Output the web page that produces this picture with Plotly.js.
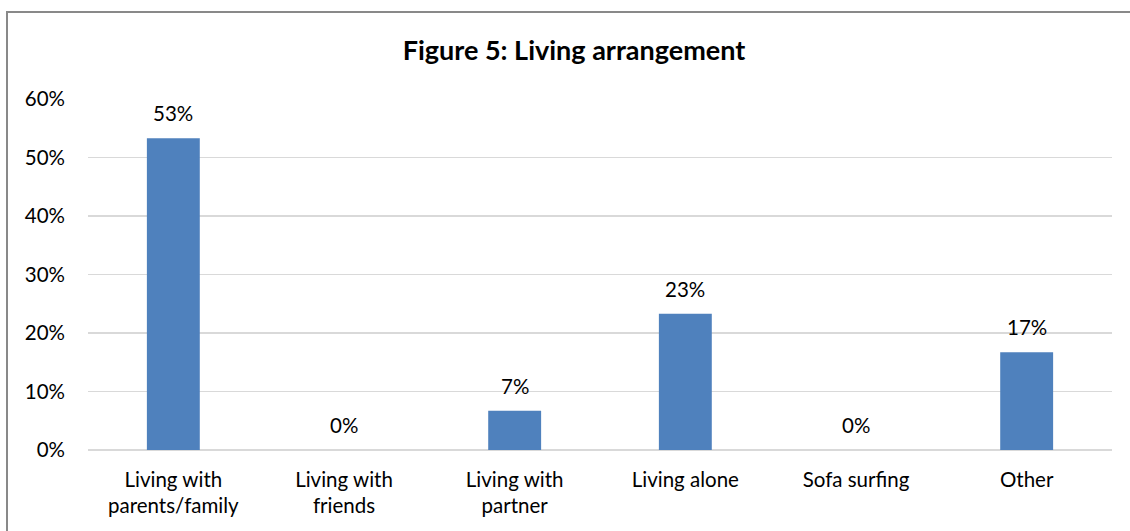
<!DOCTYPE html>
<html>
<head>
<meta charset="utf-8">
<script src="https://cdn.plot.ly/plotly-3.0.1.min.js"></script>
<style>
  html, body { margin: 0; padding: 0; overflow: hidden; background: #fff; width: 1130px; height: 531px; }
  #frame { position: absolute; left: 6px; top: 11px; border: 2px solid #898989; width: 1140px; height: 540px; background: #fff; }
  #chart { width: 1140px; height: 540px; }
</style>
</head>
<body>
<div id="frame"><div id="chart"></div></div>
<script>
const categories = ["Living with<br>parents/family", "Living with<br>friends", "Living with<br>partner", "Living alone", "Sofa surfing", "Other"];
const shares = [0.533, 0, 0.067, 0.233, 0, 0.167];
const tickValues = [0, 0.1, 0.2, 0.3, 0.4, 0.5, 0.6];
const tickLabels = ["0%", "10%", "20%", "30%", "40%", "50%", "60%"];
const chartTitle = "Figure 5: Living arrangement";

const FONT = "Lato, 'Open Sans', sans-serif";
const FS = 20.5;

const trace = {
  type: "bar",
  x: categories,
  y: shares,
  marker: { color: "#4F81BD" },
  hoverinfo: "skip"
};

const annotations = categories.map((c, i) => ({
  x: c, y: shares[i], xref: "x", yref: "y",
  text: Math.round(shares[i] * 100) + "%",
  showarrow: false, yanchor: "bottom", yshift: 11,
  font: { family: FONT, size: FS, color: "#000" }
}));

const layout = {
  width: 1140, height: 540,
  margin: { l: 80, r: 36, t: 86, b: 103 },
  paper_bgcolor: "#fff", plot_bgcolor: "#fff",
  bargap: 0.69,
  showlegend: false,
  font: { family: FONT, size: FS, color: "#000" },
  title: {
    text: "<b>" + chartTitle + "</b>",
    font: { family: FONT, size: 27, color: "#000" },
    xref: "container", yref: "container",
    x: (574 - 8) / 1140, y: 1 - 38 / 540,
    xanchor: "center", yanchor: "middle"
  },
  xaxis: {
    type: "category",
    showgrid: false, zeroline: false, showline: false,
    ticks: "", ticklabelstandoff: 15,
    tickfont: { family: FONT, size: FS, color: "#000" },
    fixedrange: true
  },
  yaxis: {
    range: [0, 0.6],
    tickvals: tickValues, ticktext: tickLabels,
    showgrid: true, gridcolor: "#d9d9d9", gridwidth: 1.5,
    zeroline: true, zerolinecolor: "#d9d9d9", zerolinewidth: 1.5,
    showline: false, ticks: "", ticklabelstandoff: 22,
    tickfont: { family: FONT, size: FS, color: "#000" },
    fixedrange: true
  },
  annotations: annotations
};

Plotly.newPlot("chart", [trace], layout, { displayModeBar: false, staticPlot: true });
</script>
</body>
</html>
